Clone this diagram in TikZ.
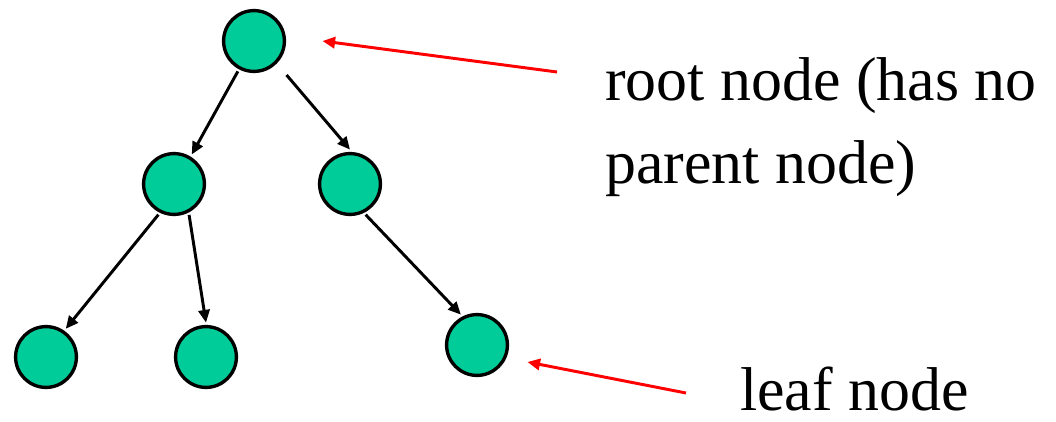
\documentclass[tikz,border=0pt]{standalone}
\usepackage{fontspec}
\setmainfont{Liberation Serif}
\usetikzlibrary{arrows.meta}
\definecolor{nodegreen}{HTML}{00CC99}
\definecolor{ink}{HTML}{000000}
\definecolor{notered}{HTML}{FF0000}

\begin{document}
\begin{tikzpicture}[
    x=0.025cm, y=-0.025cm,
    % Tree node circle
    tnode/.style={circle, draw=ink, line width=2.4pt, fill=nodegreen,
                  minimum size=1.52cm, inner sep=0pt, outer sep=0.1cm},
    % Parent -> child arrow
    arr/.style={-{Triangle[length=9pt, width=8pt]}, line width=2.1pt, ink},
    % Red pointer arrow
    ptr/.style={-{Triangle[length=9pt, width=8pt]}, line width=2.1pt, notered},
    % Annotation text
    lbl/.style={font=\fontsize{44pt}{59pt}\selectfont, inner sep=0pt}
]
\useasboundingbox (0,0) rectangle (1056,421);

% ---------- Tree ----------
\node[tnode] (root) at (254,41) {};
\node[tnode] (left) at (174,184) {};
\node[tnode] (right) at (350,184) {};
\node[tnode] (leafa) at (46,357) {};
\node[tnode] (leafb) at (206,357) {};
\node[tnode] (leafc) at (477,345) {};

% ---------- Parent -> child ----------
\draw[arr] (root.-118) -- (left.59);
\draw[arr, shorten <=9pt] (root.-45) -- (right.north);
\draw[arr] (left.-117) -- (leafa.55);
\draw[arr] (left.-64) -- (leafb.north);
\draw[arr] (right.-63) -- (leafc.118);

% ---------- Labels ----------
\node[lbl, align=left, anchor=base west] (rootlbl) at (605,183) {root node (has no\\parent node)};
\node[lbl, anchor=base west] (leaflbl) at (740,410) {leaf node};

% ---------- Pointers ----------
\coordinate (roottail) at (557,72);
\coordinate (leaftail) at (686,393);
\draw[ptr] (roottail) -- ([xshift=0.85cm]root.east);
\draw[ptr] (leaftail) -- ([shift={(16,17)}]leafc.east);

\end{tikzpicture}
\end{document}
